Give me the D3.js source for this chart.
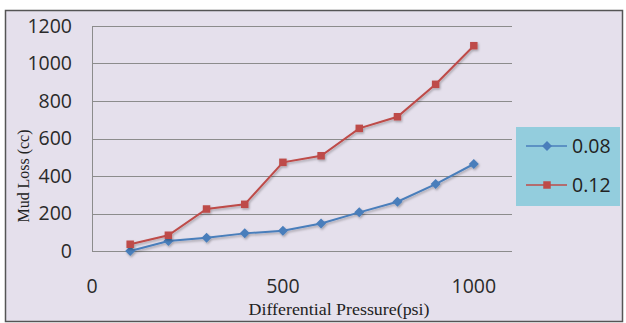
<!DOCTYPE html>
<html><head><meta charset="utf-8">
<script src="https://d3js.org/d3.v7.min.js"></script>
<style>body{margin:0;background:#fff}svg{display:block}</style>
</head><body>
<script>
const pressures = [100,200,300,400,500,600,700,800,900,1000];
const series008 = [0,53,71,94,108,147,206,263,357,464];
const series012 = [36,84,224,249,473,508,654,716,889,1095];
const seriesNames = ["0.08","0.12"];
const xTicks = [0,500,1000];
const yTicks = [0,200,400,600,800,1000,1200];

const W=626,H=323;
const svg=d3.select("body").append("svg").attr("width",W).attr("height",H);
svg.append("rect").attr("x",5.5).attr("y",10.5).attr("width",617).attr("height",311)
  .attr("fill","#e5e0ec").attr("stroke","#555").attr("stroke-width",1.5);

const x=d3.scaleLinear().domain([0,1100]).range([92,512]);
const y=d3.scaleLinear().domain([0,1200]).range([251,26]);

const g=svg.append("g");
g.selectAll(".grid").data(yTicks).join("line")
  .attr("x1",x(0)).attr("x2",x(1100)).attr("y1",d=>Math.round(y(d))+0.5).attr("y2",d=>Math.round(y(d))+0.5)
  .attr("stroke","#8c8c8c").attr("stroke-width",1);
g.append("line").attr("x1",x(0)+0.5).attr("x2",x(0)+0.5).attr("y1",y(1200)).attr("y2",y(0))
  .attr("stroke","#8c8c8c");

const font="'Open Sans','Liberation Sans',sans-serif";
g.selectAll(".yt").data(yTicks).join("text")
  .attr("x",72).attr("y",d=>y(d)).attr("dy","0.35em").attr("text-anchor","end")
  .attr("font-family",font).attr("font-size",19.5).attr("fill","#2a2a2a").text(d=>d);
g.selectAll(".xt").data(xTicks).join("text")
  .attr("x",d=>x(d)).attr("y",286).attr("dy","0.35em").attr("text-anchor","middle")
  .attr("font-family",font).attr("font-size",19.5).attr("fill","#2a2a2a").text(d=>d);

const serif="'Liberation Serif','DejaVu Serif',serif";
svg.append("text").attr("transform","translate(29,176) rotate(-90)").attr("text-anchor","middle")
  .attr("font-family",serif).attr("font-size",16).attr("fill","#222")
  .attr("textLength",93).attr("lengthAdjust","spacingAndGlyphs").text("Mud Loss (cc)");
svg.append("text").attr("x",339).attr("y",315).attr("text-anchor","middle")
  .attr("font-family",serif).attr("font-size",16).attr("fill","#222")
  .attr("textLength",181).attr("lengthAdjust","spacingAndGlyphs").text("Differential Pressure(psi)");

const defs=svg.append("defs");
const f=defs.append("filter").attr("id","sh").attr("x","-50%").attr("y","-50%").attr("width","200%").attr("height","200%");
f.append("feDropShadow").attr("dx",1).attr("dy",1.5).attr("stdDeviation",1.2).attr("flood-color","#000").attr("flood-opacity",0.3);

const colors=["#4a7ebb","#be4b48"];
const data=[series008,series012];
const line=d3.line().x((d,i)=>x(pressures[i])).y(d=>y(d));
const sq=d3.symbol().type(d3.symbolSquare);
const markerPath=k=>k===0?sq.size(50)():sq.size(56)();
const markerRot=k=>k===0?" rotate(45)":"";
data.forEach((s,k)=>{
  const sg=svg.append("g").attr("filter","url(#sh)");
  sg.append("path").attr("d",line(s)).attr("fill","none").attr("stroke",colors[k]).attr("stroke-width",2);
  sg.selectAll("path.m").data(s).join("path").attr("class","m")
    .attr("transform",(d,i)=>`translate(${x(pressures[i])},${y(d)})${markerRot(k)}`)
    .attr("d",markerPath(k)).attr("fill",colors[k]);
});

// legend
const lg=svg.append("g");
lg.append("rect").attr("x",516).attr("y",127).attr("width",104).attr("height",79).attr("fill","#93cddd");
seriesNames.forEach((n,k)=>{
  const yy=146+k*39;
  lg.append("line").attr("x1",526).attr("x2",567).attr("y1",yy).attr("y2",yy).attr("stroke",colors[k]).attr("stroke-width",1.5);
  lg.append("path").attr("transform",`translate(547,${yy})${markerRot(k)}`).attr("d",markerPath(k)).attr("fill",colors[k]);
  lg.append("text").attr("x",572).attr("y",yy).attr("dy","0.35em").attr("font-family",font)
    .attr("font-size",19.5).attr("fill","#222").text(n);
});
</script>
</body></html>
